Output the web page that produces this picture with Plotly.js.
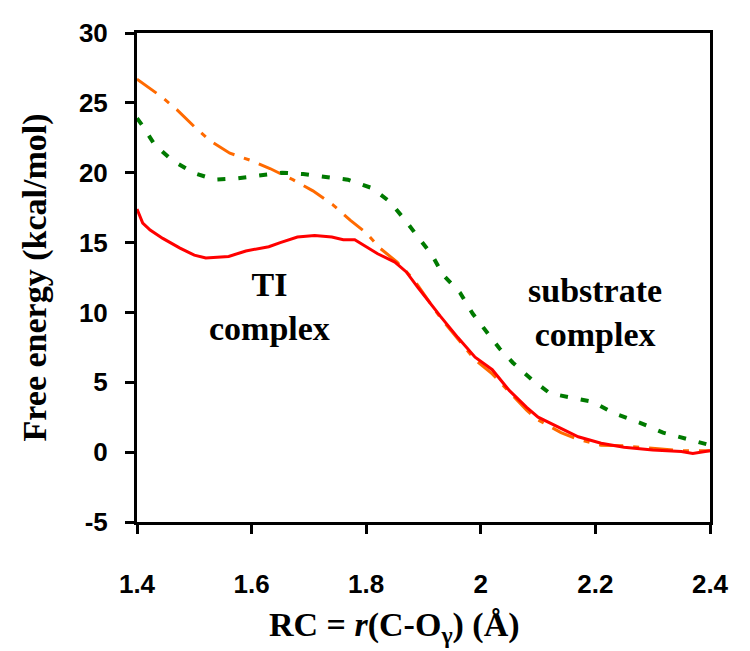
<!DOCTYPE html>
<html>
<head>
<meta charset="utf-8">
<script src="https://cdn.plot.ly/plotly-3.0.1.min.js"></script>
<style>html,body{margin:0;padding:0;background:#fff;}#chart{width:750px;height:651px;}</style>
</head>
<body>
<div id="chart"></div>
<script>
// Red solid curve
var redX = [1.40, 1.41, 1.423, 1.445, 1.475, 1.50, 1.52, 1.56, 1.59, 1.63, 1.65, 1.68, 1.71, 1.74, 1.76, 1.78, 1.82, 1.85, 1.87, 1.89, 1.93, 1.96, 1.99, 2.02, 2.05, 2.08, 2.10, 2.14, 2.17, 2.21, 2.25, 2.30, 2.35, 2.37, 2.40];
var redY = [17.4, 16.4, 15.9, 15.3, 14.6, 14.1, 13.9, 14.0, 14.4, 14.7, 15.0, 15.4, 15.5, 15.4, 15.2, 15.2, 14.2, 13.6, 12.9, 11.8, 9.7, 8.2, 6.8, 5.9, 4.4, 3.2, 2.5, 1.7, 1.1, 0.64, 0.35, 0.15, 0.05, -0.1, 0.1];
// Orange dash-dot curve
var orangeX = [1.40, 1.41, 1.444, 1.47, 1.50, 1.527, 1.562, 1.597, 1.632, 1.672, 1.707, 1.742, 1.772, 1.80, 1.824, 1.854, 1.882, 1.93, 1.96, 1.99, 2.02, 2.05, 2.08, 2.10, 2.14, 2.17, 2.21, 2.25, 2.30, 2.35, 2.40];
var orangeY = [26.7, 26.4, 25.4, 24.5, 23.3, 22.3, 21.4, 20.9, 20.3, 19.5, 18.7, 17.7, 16.6, 15.7, 14.6, 13.6, 12.4, 9.6, 8.1, 6.6, 5.6, 4.3, 3.0, 2.3, 1.4, 0.9, 0.5, 0.45, 0.3, 0.1, 0.1];
// Green dotted curve
var greenX = [1.40, 1.409, 1.431, 1.461, 1.498, 1.536, 1.575, 1.615, 1.653, 1.69, 1.732, 1.768, 1.81, 1.842, 1.866, 1.89, 1.915, 1.934, 1.964, 1.986, 2.011, 2.033, 2.056, 2.089, 2.121, 2.156, 2.196, 2.231, 2.278, 2.318, 2.353, 2.40];
var greenY = [23.9, 23.4, 22.0, 20.9, 20.0, 19.5, 19.6, 19.8, 20.0, 19.9, 19.7, 19.5, 18.9, 17.9, 16.7, 15.4, 14.1, 12.7, 11.4, 9.9, 8.6, 7.4, 6.4, 5.2, 4.2, 3.9, 3.6, 2.8, 2.1, 1.4, 1.0, 0.5];
var xTicks = [1.4, 1.6, 1.8, 2, 2.2, 2.4];
var xTickText = ["1.4", "1.6", "1.8", "2", "2.2", "2.4"];
var yTicks = [-5, 0, 5, 10, 15, 20, 25, 30];
var yTickText = ["-5", "0", "5", "10", "15", "20", "25", "30"];
var labels = [
  {x: 1.632, y: 10.4, text: "TI<br>complex"},
  {x: 2.2, y: 10.0, text: "substrate<br>complex"}
];
var xTitle = "RC = <i>r</i>(C-O<sub>γ</sub>) (Å)";
var yTitle = "Free energy (kcal/mol)";

var serif = "Liberation Serif, Times New Roman, serif";
var sans = "Liberation Sans, Arial, sans-serif";

var traces = [
  {x: orangeX, y: orangeY, mode: "lines", line: {color: "#FF6A00", width: 3, dash: "24px,10px,6px,10px"}, hoverinfo: "skip"},
  {x: greenX, y: greenY, mode: "lines", line: {color: "#007A00", width: 4, dash: "8px,13px"}, hoverinfo: "skip"},
  {x: redX, y: redY, mode: "lines", line: {color: "#FF0000", width: 3}, hoverinfo: "skip"}
];

var annots = labels.map(function (d) {
  return {x: d.x, y: d.y, xref: "x", yref: "y", text: "<b>" + d.text + "</b>", showarrow: false,
    font: {family: serif, size: 34, color: "#000"}, align: "center"};
});
annots.push({x: 0.45, y: -0.215, xref: "paper", yref: "paper", text: "<b>" + xTitle + "</b>", showarrow: false,
  font: {family: serif, size: 34, color: "#000"}, xanchor: "center", yanchor: "middle"});

var layout = {
  width: 750, height: 651,
  margin: {l: 137, r: 40, t: 33, b: 129},
  showlegend: false,
  paper_bgcolor: "#fff", plot_bgcolor: "#fff",
  xaxis: {
    range: [1.4, 2.4], tickvals: xTicks, ticktext: xTickText,
    showgrid: false, zeroline: false, showline: true, mirror: true,
    linecolor: "#000", linewidth: 3, ticks: "outside", ticklen: 9, tickwidth: 3, tickcolor: "#000",
    ticklabelstandoff: 28,
    tickfont: {family: sans, size: 26, color: "#000", weight: "bold"}
  },
  yaxis: {
    range: [-5, 30], tickvals: yTicks, ticktext: yTickText,
    showgrid: false, zeroline: false, showline: true, mirror: true,
    linecolor: "#000", linewidth: 3, ticks: "outside", ticklen: 9, tickwidth: 3, tickcolor: "#000",
    ticklabelstandoff: 12,
    tickfont: {family: sans, size: 26, color: "#000", weight: "bold"},
    title: {text: "<b>" + yTitle + "</b>", font: {family: serif, size: 34, color: "#000"}, standoff: 22}
  },
  annotations: annots
};

Plotly.newPlot("chart", traces, layout, {staticPlot: true});
</script>
</body>
</html>
